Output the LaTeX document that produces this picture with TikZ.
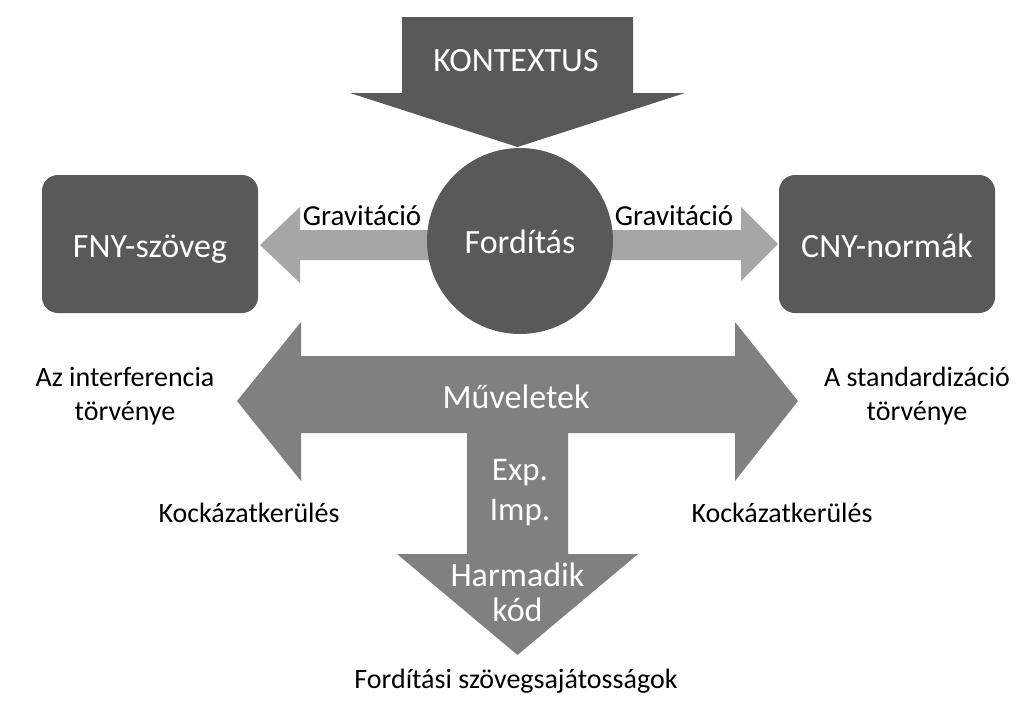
\documentclass[tikz,border=0pt]{standalone}
\usepackage{fontspec}
\setmainfont{Carlito}
\definecolor{dark}{HTML}{595959}
\definecolor{mid}{HTML}{808080}
\definecolor{light}{HTML}{A6A6A6}
\begin{document}
\begin{tikzpicture}[x=1pt,y=-1pt,
  boxstyle/.style={fill=dark,rounded corners=16pt,minimum width=216pt,minimum height=138pt,inner sep=0pt},
  whitetxt/.style={text=white,inner sep=0pt,align=center,anchor=base,font=\fontsize{34}{34}\selectfont},
  blacktxt/.style={text=black,inner sep=0pt,align=center,anchor=base,font=\fontsize{28}{34}\selectfont},
]
\useasboundingbox (0,0) rectangle (1023,702);
% KONTEXTUS arrow
\fill[dark] (402,17) -- (633,17) -- (633,93) -- (685,93) -- (517.5,147) -- (350,93) -- (402,93) -- cycle;
\node[whitetxt] (kontextus) at (516,71) {KONTEXTUS};
% gravitation arrows
\fill[light] (440,230) -- (300,230) -- (300,207) -- (260,245) -- (300,283) -- (300,260) -- (440,260) -- cycle;
\fill[light] (600,230) -- (741,230) -- (741,207) -- (778,244) -- (741,281) -- (741,260) -- (600,260) -- cycle;
% circle
\node[circle,fill=dark,minimum size=186pt,inner sep=0pt] (ford) at (520,241) {};
\node[whitetxt] (fordtxt) at (520,253) {Fordítás};
% boxes
\node[boxstyle] (fny) at (150,244) {};
\node[boxstyle] (cny) at (887,244) {};
\node[whitetxt] (fnytxt) at (fny.center |- 0,257) {FNY-szöveg};
\node[whitetxt] (cnytxt) at (cny.center |- 0,257) {CNY-normák};
\node[blacktxt,font=\fontsize{29}{34}\selectfont] (g1) at (362,225) {Gravitáció};
\node[blacktxt,font=\fontsize{29}{34}\selectfont] (g2) at (674,225) {Gravitáció};
% big arrow
\fill[mid] (301,356) -- (301,322) -- (237,401) -- (301,481) -- (301,433) -- (467,433) -- (467,554) -- (397,554) -- (517.5,655) -- (638,554) -- (568,554) -- (568,433) -- (735,433) -- (735,481) -- (798,401) -- (735,322) -- (735,356) -- cycle;
\node[whitetxt] (muv) at (516,408) {Műveletek};
\node[whitetxt,font=\fontsize{33}{40}\selectfont] (expimp) at (520,520) {Exp.\\Imp.};
\node[whitetxt,font=\fontsize{34}{35}\selectfont] (harm) at (517.5,621) {Harmadik\\kód};
% side labels
\node[blacktxt] (interf) at (125,420) {Az interferencia\\törvénye};
\node[blacktxt] (stand) at (917,420) {A standardizáció\\törvénye};
\node[blacktxt] (k1) at (249,522) {Kockázatkerülés};
\node[blacktxt] (k2) at (782,522) {Kockázatkerülés};
\node[blacktxt] (fsz) at (516,688) {Fordítási szövegsajátosságok};
\end{tikzpicture}
\end{document}
